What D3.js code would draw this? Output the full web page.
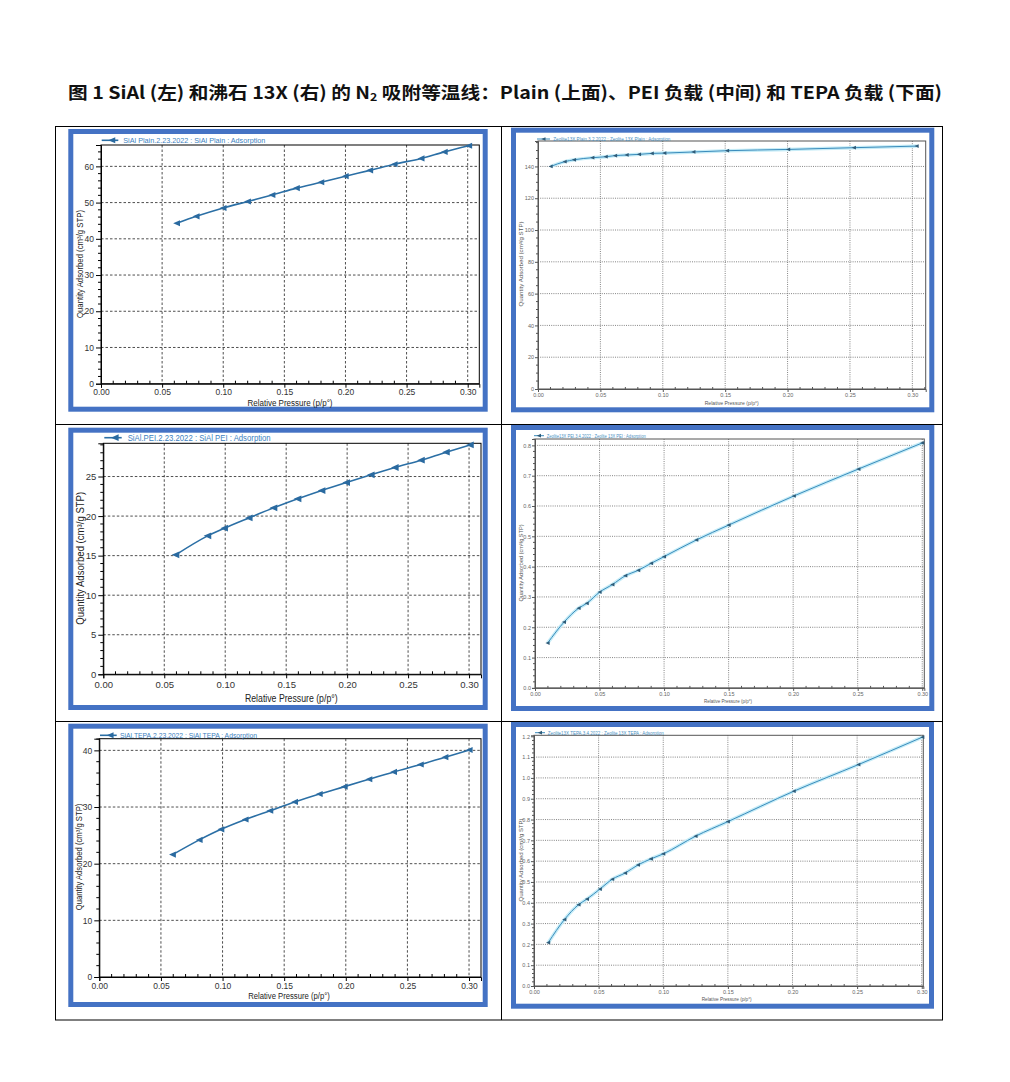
<!DOCTYPE html>
<html><head><meta charset="utf-8">
<script src="https://cdn.jsdelivr.net/npm/d3@7"></script>
<style>body{margin:0;background:#fff}svg{display:block}</style>
</head><body><svg id="c" width="1010" height="1082"></svg>
<script>
// ---------- DATA ----------
const sialPlainP = [0.062,0.078,0.100,0.120,0.140,0.160,0.180,0.200,0.220,0.240,0.262,0.281,0.301];
const sialPlainQ = [44.3,46.2,48.5,50.3,52.1,54.0,55.6,57.3,58.9,60.6,62.2,64.0,65.7];
const zeoPlainP = [0.0102,0.0214,0.0289,0.0436,0.0543,0.0618,0.0711,0.081,0.0912,0.1013,0.1246,0.1516,0.2005,0.2532,0.3035];
const zeoPlainQ = [140.0,143.0,144.2,145.5,146.1,146.8,147.2,147.6,148.2,148.4,149.1,149.9,150.7,151.8,152.8];
const sialPeiP = [0.0594,0.0856,0.0993,0.1195,0.1398,0.1595,0.1792,0.1994,0.2196,0.2393,0.2607,0.2812,0.3009];
const sialPeiQ = [15.1,17.5,18.47,19.77,21.04,22.18,23.23,24.24,25.21,26.14,27.07,28.08,29.0];
const zeoPeiP = [0.0098,0.0225,0.0338,0.0401,0.0501,0.060,0.070,0.080,0.090,0.100,0.125,0.150,0.2005,0.2506,0.300];
const zeoPeiQ = [0.148,0.217,0.263,0.279,0.316,0.341,0.370,0.388,0.411,0.433,0.488,0.537,0.633,0.722,0.808];
const sialTepaP = [0.0595,0.0812,0.0988,0.1185,0.1385,0.1586,0.1786,0.1989,0.2189,0.2389,0.2606,0.2806,0.3003];
const sialTepaQ = [21.6,24.2,26.06,27.8,29.35,30.9,32.3,33.6,34.9,36.2,37.5,38.8,40.06];
const zeoTepaP = [0.011,0.0235,0.0345,0.041,0.051,0.0605,0.0705,0.0805,0.0905,0.100,0.125,0.150,0.201,0.251,0.3005];
const zeoTepaQ = [0.208,0.319,0.391,0.418,0.466,0.513,0.543,0.582,0.611,0.635,0.720,0.790,0.936,1.064,1.196];

const xTicks = [0,0.05,0.10,0.15,0.20,0.25,0.30];
const sialPlainYTicks = [0,10,20,30,40,50,60];
const zeoPlainYTicks = [0,20,40,60,80,100,120,140];
const sialPeiYTicks = [0,5,10,15,20,25];
const zeoPeiYTicks = [0,0.1,0.2,0.3,0.4,0.5,0.6,0.7,0.8];
const sialTepaYTicks = [0,10,20,30,40];
const zeoTepaYTicks = [0,0.1,0.2,0.3,0.4,0.5,0.6,0.7,0.8,0.9,1.0,1.1,1.2];

const legendSialPlain = "SiAl Plain.2.23.2022 : SiAl Plain : Adsorption";
const legendZeoPlain = "Zeolite13X Plain.3.2.2022 : Zeolite 13X Plain : Adsorption";
const legendSialPei = "SiAl.PEI.2.23.2022 : SiAl PEI : Adsorption";
const legendZeoPei = "Zeolite13X PEI.3.4.2022 : Zeolite 13X PEI : Adsorption";
const legendSialTepa = "SiAl.TEPA.2.23.2022 : SiAl TEPA : Adsorption";
const legendZeoTepa = "Zeolite13X TEPA.3.4.2022 : Zeolite 13X TEPA : Adsorption";
const xTitle = "Relative Pressure (p/p°)";
const yTitle = "Quantity Adsorbed (cm³/g STP)";

// ---------- DRAW ----------
const svg = d3.select('#c');
svg.append('rect').attr('width',1010).attr('height',1082).attr('fill','#fff');

// title
const t = svg.append('text').attr('x',68).attr('y',99)
  .attr('font-family','"Noto Sans CJK SC", "Noto Sans", sans-serif')
  .attr('font-weight','bold').attr('font-size',17.5).attr('fill','#111')
  .attr('textLength',874).attr('lengthAdjust','spacingAndGlyphs');
t.append('tspan').text('图 1  SiAl (左) 和沸石 13X (右) 的 N');
t.append('tspan').attr('font-size',11).attr('dy',2).text('2');
t.append('tspan').attr('dy',-2).text(' 吸附等温线：Plain (上面)、PEI 负载 (中间) 和 TEPA 负载 (下面)');

// table borders
const tb = svg.append('g').attr('stroke','#000').attr('stroke-width',1).attr('fill','none');
tb.append('rect').attr('x',55.5).attr('y',126.5).attr('width',887).attr('height',893.5);
tb.append('line').attr('x1',501.5).attr('x2',501.5).attr('y1',126.5).attr('y2',1020);
tb.append('line').attr('x1',55.5).attr('x2',942.5).attr('y1',424.5).attr('y2',424.5);
tb.append('line').attr('x1',55.5).attr('x2',942.5).attr('y1',721.5).attr('y2',721.5);

function panel(c, px, py, yTicks, yMinor, yFmt, legendText) {
  const g = svg.append('g');
  const f = c.frame;
  g.append('rect').attr('x',f[0]+2.5).attr('y',f[1]+2.5)
    .attr('width',f[2]-f[0]-5).attr('height',f[3]-f[1]-5)
    .attr('fill','#fff').attr('stroke','#4472C4').attr('stroke-width',5);
  const x = d3.scaleLinear().domain([0,c.xMax]).range([c.l,c.r]);
  const y = d3.scaleLinear().domain([0,c.yMax]).range([c.b,c.t]);
  const L = c.kind === 'L';
  const gridCol = L ? '#222' : '#666';
  const dash = L ? '2.5,2' : '1,1.2';
  // grid
  g.append('g').selectAll('line').data(xTicks.filter(d=>d>0 && x(d)<c.r-1)).join('line')
    .attr('x1',d=>x(d)).attr('x2',d=>x(d)).attr('y1',c.t).attr('y2',c.b)
    .attr('stroke',gridCol).attr('stroke-width',0.8).attr('stroke-dasharray',dash);
  g.append('g').selectAll('line').data(yTicks.filter(d=>d>0 && y(d)>c.t+1)).join('line')
    .attr('y1',d=>y(d)).attr('y2',d=>y(d)).attr('x1',c.l).attr('x2',c.r)
    .attr('stroke',gridCol).attr('stroke-width',0.8).attr('stroke-dasharray',dash);
  // plot box
  g.append('rect').attr('x',c.l).attr('y',c.t).attr('width',c.r-c.l).attr('height',c.b-c.t)
    .attr('fill','none').attr('stroke',L?'#000':'#555').attr('stroke-width',1);
  // axes
  const fnt = 'Liberation Sans, Arial, sans-serif';
  const tcol = L ? '#333' : '#666';
  const ax = d3.axisBottom(x).tickValues(xTicks).tickFormat(d3.format('.2f')).tickSize(L?4:3).tickPadding(c.xPad);
  const axg = g.append('g').attr('transform',`translate(0,${c.b})`).call(ax);
  const ay = d3.axisLeft(y).tickValues(yTicks).tickFormat(yFmt).tickSize(L?5:3).tickPadding(c.yPad);
  const ayg = g.append('g').attr('transform',`translate(${c.l},0)`).call(ay);
  [axg, ayg].forEach(a=>{
    a.select('.domain').attr('stroke',L?'#000':'#555');
    a.selectAll('.tick line').attr('stroke',L?'#000':'#555');
    a.selectAll('text').attr('font-family',fnt).attr('font-size',c.tf).attr('fill',tcol);
  });
  // minor ticks
  const xm = d3.range(0, c.xMax, 0.01).filter(v=>Math.abs(v*20-Math.round(v*20))>1e-6);
  g.append('g').selectAll('line').data(xm).join('line')
    .attr('x1',d=>x(d)).attr('x2',d=>x(d)).attr('y1',c.b).attr('y2',c.b-(L?3:2))
    .attr('stroke',L?'#000':'#555').attr('stroke-width',1);
  const ym = d3.range(0, c.yMax, yMinor).filter(v=>!yTicks.some(tk=>Math.abs(tk-v)<yMinor*1e-3));
  g.append('g').selectAll('line').data(ym).join('line')
    .attr('y1',d=>y(d)).attr('y2',d=>y(d)).attr('x1',c.l).attr('x2',c.l-(L?3:2))
    .attr('stroke',L?'#000':'#555').attr('stroke-width',1);
  // axis titles
  g.append('text').attr('x',c.xtx).attr('y',c.xty).attr('text-anchor','middle')
    .attr('font-family',fnt).attr('font-size',c.atf).attr('fill',L?'#222':'#555')
    .attr('textLength',c.xtw).attr('lengthAdjust','spacingAndGlyphs').text(xTitle);
  g.append('text').attr('transform',`translate(${c.ytx},${c.yty}) rotate(-90)`).attr('text-anchor','middle')
    .attr('font-family',fnt).attr('font-size',c.atf).attr('fill',L?'#222':'#555')
    .attr('textLength',c.ytw).attr('lengthAdjust','spacingAndGlyphs').text(yTitle);
  // series
  const idx = d3.range(px.length);
  const line = d3.line().x(i=>x(px[i])).y(i=>y(py[i])).curve(d3.curveMonotoneX);
  const lineCol = L ? '#2b6fa5' : '#3a8cbc';
  if (!L) {
    g.append('path').attr('d',line(idx)).attr('fill','none').attr('stroke','#c6ecf7').attr('stroke-width',3.5);
  }
  g.append('path').attr('d',line(idx)).attr('fill','none').attr('stroke',lineCol).attr('stroke-width',L?1.6:1);
  const s = c.ms;
  const tri = `M${-s},0L${s*0.9},${-s*0.85}L${s*0.9},${s*0.85}Z`;
  g.append('g').selectAll('path').data(idx).join('path')
    .attr('transform',i=>`translate(${x(px[i])},${y(py[i])})`).attr('d',tri)
    .attr('fill',L?'#2a6aa0':'#2f5b78');
  // legend
  g.append('line').attr('x1',c.lg[0]).attr('x2',c.lg[1]).attr('y1',c.lg[2]).attr('y2',c.lg[2])
    .attr('stroke',lineCol).attr('stroke-width',L?1.6:1);
  g.append('path').attr('transform',`translate(${(c.lg[0]+c.lg[1])/2+ (L?2:0)},${c.lg[2]})`).attr('d',tri)
    .attr('fill',L?'#2a6aa0':'#2f5b78');
  g.append('text').attr('x',c.lg[3]).attr('y',c.lg[2]+c.lf*0.36)
    .attr('font-family',fnt).attr('font-size',c.lf).attr('fill',L?'#3d7fc0':'#4a8fbf')
    .attr('textLength',c.lg[4]).attr('lengthAdjust','spacingAndGlyphs').text(legendText);
}

const f0 = d3.format('d'), f1 = d3.format('.1f');

panel({kind:'L',frame:[68.3,129,487.7,411.7],l:101,r:479.3,t:145,b:383.7,xMax:0.3095,yMax:65.9,
  tf:8.5,xPad:1.5,yPad:2,atf:8.5,xtx:290,xty:405.5,xtw:85,ytx:83,yty:264,ytw:108,ms:3.6,lf:7.5,
  lg:[101.7,118.3,140.3,123.3,142]}, sialPlainP, sialPlainQ, sialPlainYTicks, 2, f0, legendSialPlain);

panel({kind:'R',frame:[511,127.7,934.3,412.3],l:538,r:925.7,t:141,b:389,xMax:0.3107,yMax:156,
  tf:5.5,xPad:1.5,yPad:1,atf:5.5,xtx:731.7,xty:405,xtw:54,ytx:523,yty:264,ytw:85,ms:2.2,lf:5.5,
  lg:[537,550,139,553.3,117]}, zeoPlainP, zeoPlainQ, zeoPlainYTicks, 5, f0, legendZeoPlain);

panel({kind:'L',frame:[68.3,427.7,487.7,710],l:103.3,r:481,t:443.3,b:674.3,xMax:0.3098,yMax:29.2,
  tf:9.5,xPad:3,yPad:2,atf:10,xtx:291.3,xty:701.5,xtw:92.7,ytx:84,yty:558.3,ytw:133,ms:4,lf:9,
  lg:[104.3,121.7,437.7,127.7,143]}, sialPeiP, sialPeiQ, sialPeiYTicks, 1, f0, legendSialPei);

panel({kind:'R',frame:[511,425,934.3,711],l:535,r:924.3,t:439,b:687.9,xMax:0.3016,yMax:0.821,
  tf:5.5,xPad:1.5,yPad:1,atf:5.5,xtx:728,xty:703,xtw:48,ytx:523,yty:563,ytw:77,ms:2.2,lf:5.5,
  lg:[534,544,435.7,546.7,99]}, zeoPeiP, zeoPeiQ, zeoPeiYTicks, 0.02, f1, legendZeoPei);

panel({kind:'L',frame:[68.3,723.7,487.7,1007],l:99.3,r:481,t:738.7,b:977,xMax:0.3097,yMax:42.06,
  tf:8.5,xPad:1.5,yPad:2,atf:8.5,xtx:289,xty:998.5,xtw:81.7,ytx:81.5,yty:857,ytw:106.7,ms:3.6,lf:8,
  lg:[100,116.7,735.3,120,137]}, sialTepaP, sialTepaQ, sialTepaYTicks, 2, f0, legendSialTepa);

panel({kind:'R',frame:[511,722,934,1008.7],l:534,r:923.3,t:735.3,b:986,xMax:0.3012,yMax:1.2048,
  tf:5.5,xPad:1.5,yPad:1,atf:5.5,xtx:726.7,xty:1000.5,xtw:50,ytx:523,yty:860,ytw:83,ms:2.2,lf:5.5,
  lg:[535,545,732.7,547.7,116]}, zeoTepaP, zeoTepaQ, zeoTepaYTicks, 0.02, f1, legendZeoTepa);
</script></body></html>
